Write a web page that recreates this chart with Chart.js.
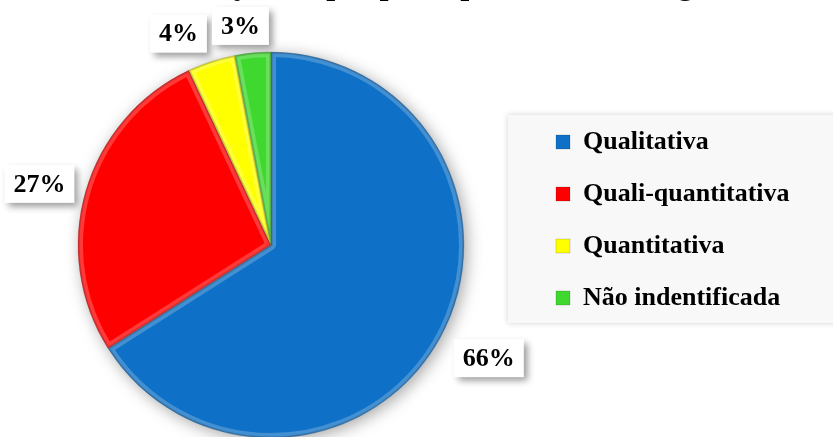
<!DOCTYPE html>
<html><head><meta charset="utf-8">
<script src="https://cdn.jsdelivr.net/npm/chart.js@4.4.1/dist/chart.umd.min.js"></script>
<style>
html,body{margin:0;padding:0;background:#fff;}
#view{position:relative;width:833px;height:437px;overflow:hidden;background:#fff;}
#wrap{position:absolute;left:0;top:-33px;width:833px;height:506px;}
</style></head><body>
<div id="view"><div id="wrap"><canvas id="c"></canvas></div></div>
<script>
// ---- data ----
const chartTitle = 'Classificação da pesquisa quanto à abordagem';
const categories = ['Qualitativa', 'Quali-quantitativa', 'Quantitativa', 'Não indentificada'];
const shares = [66, 27, 4, 3];

// ---- style ----
const sliceColors = ['#0e70c6', '#ff0000', '#ffff00', '#3ed82e'];
const FONT = '"Liberation Serif", "Times New Roman", serif';
const labelRadial = [1.276, 1.228, 1.184, 1.135];
const labelNudge = [[2, -5.5], [-4, 5], [-22, 6], [-10, -1]];

const legendWidth = {
  id: 'legendWidth',
  beforeInit(chart) {
    const leg = chart.legend;
    const orig = leg.fit;
    leg.fit = function () { orig.call(this); this.width = 291; };
  },
  afterLayout(chart) { chart.legend.left -= 12; }
};

const legendBg = {
  id: 'legendBg',
  beforeDraw(chart) {
    const leg = chart.legend, ctx = chart.ctx;
    const mid = (leg.top + leg.bottom) / 2;
    ctx.save();
    ctx.shadowColor = 'rgba(0,0,0,0.18)';
    ctx.shadowBlur = 6;
    ctx.fillStyle = '#f8f8f8';
    ctx.fillRect(leg.left - 22, mid - 105, chart.width - leg.left + 40, 208);
    ctx.restore();
  }
};

const pieShadow = {
  id: 'pieShadow',
  beforeDatasetsDraw(chart) {
    const ctx = chart.ctx;
    const a = chart.getDatasetMeta(0).data[0];
    const p = a.getProps(['x', 'y', 'outerRadius'], true);
    ctx.save();
    ctx.shadowColor = 'rgba(0,0,0,0.35)';
    ctx.shadowBlur = 16;
    ctx.shadowOffsetX = 3;
    ctx.shadowOffsetY = 3;
    ctx.beginPath();
    ctx.arc(p.x, p.y, p.outerRadius, 0, Math.PI * 2);
    ctx.fillStyle = '#fff';
    ctx.fill();
    ctx.restore();
  },
  afterDatasetsDraw(chart) {
    const ctx = chart.ctx;
    chart.getDatasetMeta(0).data.forEach((a) => {
      const p = a.getProps(['x', 'y', 'startAngle', 'endAngle', 'outerRadius'], true);
      ctx.save();
      ctx.beginPath();
      ctx.moveTo(p.x, p.y);
      ctx.arc(p.x, p.y, p.outerRadius, p.startAngle, p.endAngle);
      ctx.closePath();
      ctx.clip();
      ctx.lineJoin = 'round';
      ctx.lineWidth = 10;
      ctx.strokeStyle = 'rgba(255,255,255,0.22)';
      ctx.stroke();
      ctx.lineWidth = 3;
      ctx.strokeStyle = 'rgba(0,0,0,0.18)';
      ctx.stroke();
      ctx.restore();
    });
    chart.getDatasetMeta(0).data.forEach((a, i) => {
      const p = a.getProps(['x', 'y', 'startAngle', 'endAngle', 'outerRadius'], true);
      const mid = (p.startAngle + p.endAngle) / 2;
      const r = p.outerRadius * labelRadial[i];
      const cx = p.x + Math.cos(mid) * r + labelNudge[i][0];
      const cy = p.y + Math.sin(mid) * r + labelNudge[i][1];
      const txt = shares[i] + '%';
      ctx.save();
      ctx.font = 'bold 26px ' + FONT;
      const w = ctx.measureText(txt).width + 18, h = 38;
      ctx.shadowColor = 'rgba(0,0,0,0.4)';
      ctx.shadowBlur = 7;
      ctx.shadowOffsetX = 4;
      ctx.shadowOffsetY = 4;
      ctx.fillStyle = '#fff';
      ctx.fillRect(cx - w / 2, cy - h / 2, w, h);
      ctx.shadowColor = 'transparent';
      ctx.fillStyle = '#000';
      ctx.textAlign = 'center';
      ctx.textBaseline = 'middle';
      ctx.fillText(txt, cx, cy + 1);
      ctx.restore();
    });
  }
};

new Chart(document.getElementById('c'), {
  type: 'pie',
  data: {
    labels: categories,
    datasets: [{
      data: shares,
      backgroundColor: sliceColors,
      borderColor: 'rgba(0,0,0,0.15)',
      borderWidth: 1,
      radius: 193
    }]
  },
  options: {
    responsive: true,
    maintainAspectRatio: false,
    animation: false,
    layout: { padding: 0 },
    plugins: {
      tooltip: { enabled: false },
      title: {
        display: true,
        text: chartTitle,
        color: '#000',
        font: { family: FONT, size: 32, weight: 'bold' },
        padding: { top: 0, bottom: 11.6 }
      },
      legend: {
        position: 'right',
        align: 'center',
        labels: {
          color: '#000',
          font: { family: FONT, size: 26, weight: 'bold' },
          boxWidth: 14,
          boxHeight: 14,
          padding: 26
        }
      }
    }
  },
  plugins: [legendWidth, legendBg, pieShadow]
});
</script>
</body></html>
